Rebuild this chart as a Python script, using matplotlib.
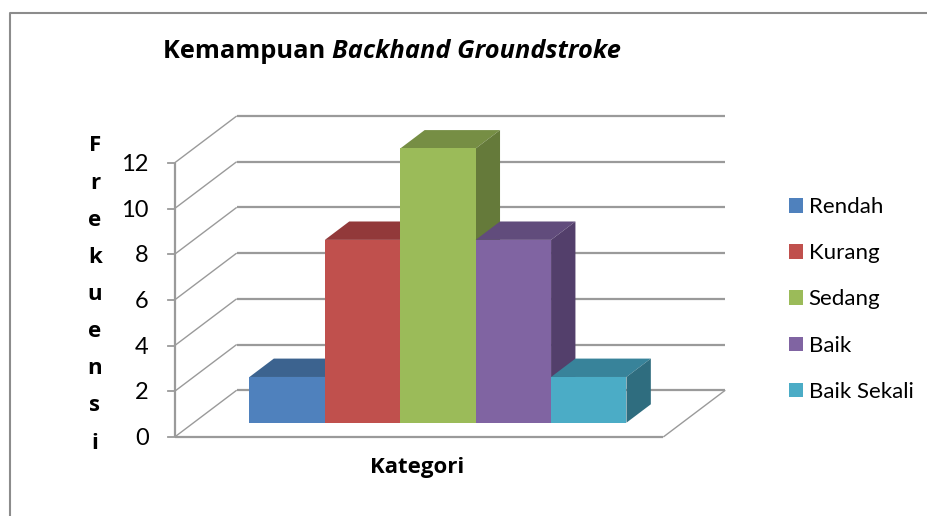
import matplotlib
matplotlib.use('Agg')
import matplotlib.pyplot as plt
from matplotlib.patches import Patch, Polygon

# data
kategori = ['Rendah', 'Kurang', 'Sedang', 'Baik', 'Baik Sekali']
frekuensi = [2, 8, 12, 8, 2]
warna_depan = ['#4F81BD', '#C0504D', '#9BBB59', '#8064A2', '#4BACC6']
warna_atas = ['#3C638F', '#92393A', '#768E44', '#614C7C', '#38839A']
warna_sisi = ['#345578', '#7C3331', '#657A3A', '#533F6B', '#2F6D7F']
y_ticks = [0, 2, 4, 6, 8, 10, 12]

W, H = 928, 516
plt.rcParams['font.family'] = ['Lato', 'DejaVu Sans']
tebal = ['Open Sans', 'DejaVu Sans']

# one bar wide = 75.4 px, one frequency unit = 22.85 px
ux, uy = 75.4, 22.85
gap = 0.74
x_kiri = -gap - 174.7 / ux
y_bawah = -(516 - 437) / uy
# depth of the whole floor and depth where the bars stand
DX, DY = 62 / ux, 46.8 / uy
d0, d_bar = 0.306, 0.393


def proj(x, v, d):
    return x + d * DX, v + d * DY


fig = plt.figure(figsize=(W / 100, H / 100), dpi=100)
ax = fig.add_axes([0, 0, 1, 1])
ax.set_xlim(x_kiri, x_kiri + W / ux)
ax.set_ylim(y_bawah, y_bawah + H / uy)
ax.axis('off')


def garis(a, b, w=1.3):
    ax.plot([a[0], b[0]], [a[1], b[1]], color='#9A9A9A', lw=w, solid_capstyle='butt')


# chart frame, only left and top are inside the picture
ax.plot([10.5 / W, 10.5 / W, 1], [0, 1 - 12.5 / H, 1 - 12.5 / H],
        transform=ax.transAxes, color='#8C8C8C', lw=1.5, clip_on=False)

# walls and floor
x_a, x_b = -gap, 5 + gap
for t in y_ticks:
    garis(proj(x_a, t, 0), proj(x_a, t, 1), 1.0)
    garis(proj(x_a, t, 1), proj(x_b, t, 1), 1.6)
    ax.plot([x_a - 7 / ux, x_a], [t, t], color='#9A9A9A', lw=1.3)
    ax.text(x_a - 26 / ux, t - 1.5 / uy, str(t), ha='right', va='center', fontsize=17, color='black')
garis(proj(x_a, 0, 0), proj(x_a, 12, 0), 1.6)
garis(proj(x_a, 0, 0), proj(x_b, 0, 0), 1.6)
garis(proj(x_b, 0, 0), proj(x_b, 0, 1), 1.0)

# bars, left to right so each front covers the neighbour behind it
for i, v in enumerate(frekuensi):
    x1, x2 = i, i + 1
    d1, d2 = d0, d0 + d_bar
    atas = [proj(x1, v, d1), proj(x2, v, d1), proj(x2, v, d2), proj(x1, v, d2)]
    sisi = [proj(x2, 0, d1), proj(x2, v, d1), proj(x2, v, d2), proj(x2, 0, d2)]
    depan = [proj(x1, 0, d1), proj(x2, 0, d1), proj(x2, v, d1), proj(x1, v, d1)]
    ax.add_patch(Polygon(atas, color=warna_atas[i], lw=0, zorder=3 + i))
    ax.add_patch(Polygon(sisi, color=warna_sisi[i], lw=0, zorder=3 + i))
    ax.add_patch(Polygon(depan, color=warna_depan[i], lw=0, zorder=3 + i))

# text
judul = ax.text(163 / W, 1 - 52 / H, 'Kemampuan ', transform=ax.transAxes, ha='left', va='center',
                fontsize=18.3, fontweight='bold', family=tebal)
ax.annotate('Backhand Groundstroke', xy=(1, 0.5), xycoords=judul, ha='left', va='center',
            fontsize=18.3, fontweight='bold', fontstyle='italic', family=tebal)
ax.text(417 / W, 1 - 467 / H, 'Kategori', transform=ax.transAxes, ha='center', va='center',
        fontsize=16, fontweight='bold', family=tebal)
ax.text(95 / W, 1 - 294.5 / H, '\n'.join('Frekuensi'), transform=ax.transAxes, ha='center', va='center',
        fontsize=16, fontweight='bold', linespacing=2.01, family=tebal)

handles = [Patch(color=c, lw=0) for c in warna_depan]
ax.legend(handles, kategori, loc='upper left', bbox_to_anchor=(789 / W, 1 - 197 / H), frameon=False,
          fontsize=16, handlelength=0.64, handleheight=0.64, handletextpad=0.25, labelspacing=1.18,
          borderpad=0, borderaxespad=0)

fig.savefig('out.png', dpi=100)
